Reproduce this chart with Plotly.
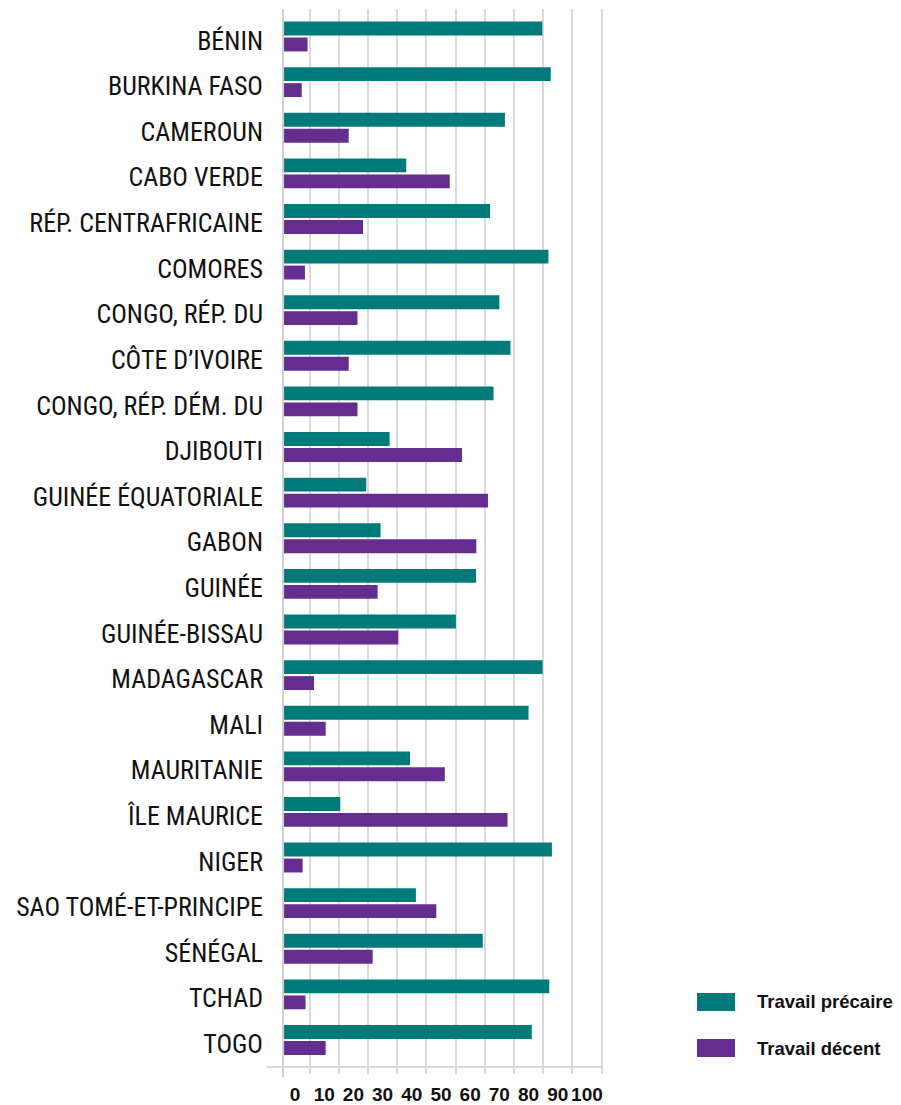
import plotly.graph_objects as go

countries = [
    "BÉNIN", "BURKINA FASO", "CAMEROUN", "CABO VERDE", "RÉP. CENTRAFRICAINE",
    "COMORES", "CONGO, RÉP. DU", "CÔTE D’IVOIRE", "CONGO, RÉP. DÉM. DU",
    "DJIBOUTI", "GUINÉE ÉQUATORIALE", "GABON", "GUINÉE", "GUINÉE-BISSAU",
    "MADAGASCAR", "MALI", "MAURITANIE", "ÎLE MAURICE", "NIGER",
    "SAO TOMÉ-ET-PRINCIPE", "SÉNÉGAL", "TCHAD", "TOGO",
]
travail_precaire = [88.8, 91.7, 76.0, 42.2, 70.9, 90.9, 74.1, 77.9, 72.1,
                    36.5, 28.5, 33.4, 66.1, 59.2, 88.9, 84.1, 43.5, 19.6, 92.1,
                    45.5, 68.4, 91.2, 85.2]
travail_decent = [8.4, 6.4, 22.5, 57.1, 27.4, 7.5, 25.5, 22.5, 25.5,
                  61.3, 70.2, 66.2, 32.4, 39.5, 10.6, 14.6, 55.4, 76.9, 6.7,
                  52.5, 30.7, 7.7, 14.6]
tick_labels = ["0", "10", "20", "30", "40", "50", "60", "70", "80", "90", "100"]
legend_names = ["Travail précaire", "Travail décent"]

TEAL = "#007B7A"
PURPLE = "#662D91"
GRID = "#DADADA"
LABEL_FONT = "Liberation Sans Narrow, Arial Narrow, Roboto Condensed, Roboto, sans-serif"

fig = go.Figure()
fig.add_trace(go.Bar(y=countries, x=travail_precaire, orientation="h",
                     marker=dict(color=TEAL, line=dict(width=0)),
                     name=legend_names[0], showlegend=False))
fig.add_trace(go.Bar(y=countries, x=travail_decent, orientation="h",
                     marker=dict(color=PURPLE, line=dict(width=0)),
                     name=legend_names[1], showlegend=False))

L, R, T, B = 267, 603, 9, 1066
W, H = 901, 1105

fig.update_layout(
    width=W, height=H,
    margin=dict(l=L, r=W - R, t=T, b=H - B, pad=0, autoexpand=False),
    plot_bgcolor="white", paper_bgcolor="white",
    barmode="group", bargap=0.30, bargroupgap=0.13,
    showlegend=False,
)

grid_vals = [10 * k - 0.9 for k in range(1, 12)]
label_vals = [10 * k + 4.1 for k in range(len(tick_labels))]

fig.update_xaxes(
    range=[-5.5, 109.6], automargin=False,
    showgrid=False, zeroline=False,
    showline=True, linecolor=GRID, linewidth=2,
    tickmode="array", tickvals=label_vals, ticktext=tick_labels,
    ticks="", ticklabelstandoff=10,
    tickfont=dict(family="Liberation Sans, Arial, sans-serif", size=19,
                  color="#111111", weight="bold"),
    minor=dict(tickmode="array", tickvals=grid_vals, showgrid=True,
               gridcolor=GRID, gridwidth=1.5, ticks="outside", ticklen=6,
               tickcolor=GRID, tickwidth=1.5),
)
fig.update_yaxes(
    type="category", categoryorder="array", categoryarray=countries,
    range=[22.57, -0.603], automargin=False,
    showgrid=False, zeroline=False, showline=False,
    ticks="", ticklabelstandoff=3, ticklabelshift=-4,
    tickfont=dict(family=LABEL_FONT, size=26, color="#111111"),
)

# vertical axis line at value 0
fig.add_shape(type="line", xref="x", yref="paper", x0=0, x1=0,
              y0=-(1077 - B) / (B - T), y1=1, line=dict(color="#D0D0D0", width=2))

# legend drawn as swatches + labels
def px_x(px):
    return (px - L) / (R - L)

def px_y(py):
    return (B - py) / (B - T)

for name, color, ytop, ybot in [(legend_names[0], TEAL, 993, 1011),
                                (legend_names[1], PURPLE, 1039, 1057)]:
    fig.add_shape(type="rect", xref="paper", yref="paper",
                  x0=px_x(697), x1=px_x(735), y0=px_y(ybot), y1=px_y(ytop),
                  fillcolor=color, line=dict(width=0))
    fig.add_annotation(xref="paper", yref="paper", x=px_x(755),
                       y=px_y((ytop + ybot) / 2), xanchor="left", yanchor="middle",
                       text=name, showarrow=False,
                       font=dict(family="Liberation Sans, Arial, sans-serif",
                                 size=18.5, color="#111111", weight="bold"))

fig.write_html("out.html")
